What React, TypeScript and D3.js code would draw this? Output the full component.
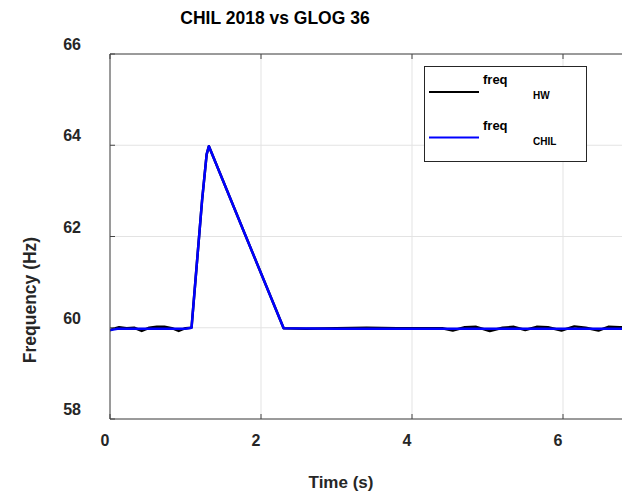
import React from "react";
import * as d3 from "d3";

const titleText = "CHIL 2018 vs GLOG 36";
const xLabel = "Time (s)";
const yLabel = "Frequency (Hz)";
const xTicks = [0, 2, 4, 6];
const yTicks = [58, 60, 62, 64, 66];

const hwTime = [0, 0.05, 0.12, 0.22, 0.32, 0.42, 0.52, 0.62, 0.72, 0.82, 0.91, 1.0, 1.08, 1.15, 1.22, 1.28, 1.31, 1.8, 2.3, 2.6, 3.0, 3.4, 3.8, 4.2, 4.4, 4.54, 4.7, 4.85, 5.03, 5.2, 5.35, 5.5, 5.65, 5.8, 5.98, 6.15, 6.3, 6.47, 6.6, 6.75, 6.9];
const hwFreq = [59.94, 59.98, 60.01, 59.99, 60.0, 59.93, 60.0, 60.02, 60.02, 59.99, 59.93, 59.99, 60.0, 61.4, 62.8, 63.8, 63.98, 62.0, 59.99, 59.98, 59.99, 60.0, 59.99, 59.99, 59.99, 59.94, 60.01, 60.02, 59.93, 60.0, 60.02, 59.95, 60.02, 60.01, 59.94, 60.03, 60.0, 59.94, 60.02, 60.01, 60.01];

const chilTime = [0, 0.1, 0.5, 1.0, 1.08, 1.15, 1.22, 1.28, 1.31, 1.8, 2.3, 3.0, 4.0, 5.0, 6.0, 6.9];
const chilFreq = [59.95, 59.98, 59.98, 59.98, 60.0, 61.4, 62.8, 63.8, 63.98, 62.0, 59.99, 59.98, 59.98, 59.98, 59.98, 59.98];

const legendItems = [
  { name: "freq", sub: "HW", color: "#000000" },
  { name: "freq", sub: "CHIL", color: "#0000ff" },
];

const W = 622;
const H = 494;
const left = 110;
const top = 54;
const bottom = 419;
const FONT = "'Liberation Sans', Arial, Helvetica, sans-serif";

export default function App() {
  const x = d3.scaleLinear().domain([0, 7]).range([left, left + 7 * 75.5]);
  const y = d3.scaleLinear().domain([58, 66]).range([bottom, top]);
  const right = x(7);

  const line = d3
    .line<[number, number]>()
    .x((d) => x(d[0]))
    .y((d) => y(d[1]));

  const hwData: [number, number][] = hwTime.map((t, i) => [t, hwFreq[i]]);
  const chilData: [number, number][] = chilTime.map((t, i) => [t, chilFreq[i]]);

  const axisColor = "#444";
  const gridColor = "#e3e3e3";

  return (
    <svg
      width={W}
      height={H}
      style={{ position: "absolute", left: 0, top: 0, background: "#fff" }}
      fontFamily={FONT}
    >
      <rect x={0} y={0} width={W} height={H} fill="#fff" />
      <defs>
        <clipPath id="plotclip">
          <rect x={left} y={top} width={right - left} height={bottom - top} />
        </clipPath>
      </defs>
      {xTicks.map((t) => (
        <line key={"gx" + t} x1={x(t)} x2={x(t)} y1={top} y2={bottom} stroke={gridColor} strokeWidth={1} />
      ))}
      {yTicks.map((t) => (
        <line key={"gy" + t} x1={left} x2={right} y1={y(t)} y2={y(t)} stroke={gridColor} strokeWidth={1} />
      ))}
      <g clipPath="url(#plotclip)">
        <path d={line(hwData) || ""} fill="none" stroke="#000" strokeWidth={2.5} strokeLinejoin="round" />
        <path d={line(chilData) || ""} fill="none" stroke="#0000ff" strokeWidth={2.5} strokeLinejoin="round" />
      </g>
      <line x1={left} x2={right} y1={top} y2={top} stroke={axisColor} strokeWidth={1} />
      <line x1={left} x2={right} y1={bottom} y2={bottom} stroke={axisColor} strokeWidth={1} />
      <line x1={left} x2={left} y1={top} y2={bottom} stroke={axisColor} strokeWidth={1} />
      {xTicks.map((t) => (
        <g key={"tx" + t}>
          <line x1={x(t)} x2={x(t)} y1={bottom} y2={bottom - 5} stroke={axisColor} />
          <line x1={x(t)} x2={x(t)} y1={top} y2={top + 5} stroke={axisColor} />
          <text x={x(t) - 5} y={446} textAnchor="middle" fontSize={16} fontWeight="bold" fill="#262626">
            {t}
          </text>
        </g>
      ))}
      {yTicks.map((t) => (
        <g key={"ty" + t}>
          <line x1={left} x2={left + 5} y1={y(t)} y2={y(t)} stroke={axisColor} />
          <text x={81} y={y(t) - 4} textAnchor="end" fontSize={16} fontWeight="bold" fill="#262626">
            {t}
          </text>
        </g>
      ))}
      <text x={275} y={24} textAnchor="middle" fontSize={17.5} fontWeight="bold" fill="#000">
        {titleText}
      </text>
      <text x={341} y={488} textAnchor="middle" fontSize={17} fontWeight="bold" fill="#262626">
        {xLabel}
      </text>
      <text
        transform={`translate(36,300) rotate(-90)`}
        textAnchor="middle"
        fontSize={17.5}
        fontWeight="bold"
        fill="#262626"
      >
        {yLabel}
      </text>
      <rect x={424.5} y={66.5} width={162} height={95} fill="#fff" stroke="#262626" strokeWidth={1} />
      {legendItems.map((d, i) => {
        const ly = 92 + i * 45.5;
        return (
          <g key={"lg" + i}>
            <line x1={429} x2={479} y1={ly} y2={ly} stroke={d.color} strokeWidth={2} />
            <text x={483} y={ly - 8} fontSize={13} fontWeight="bold" fill="#000">
              {d.name}
            </text>
            <text x={533} y={ly + 7} fontSize={10} fontWeight="bold" fill="#000">
              {d.sub}
            </text>
          </g>
        );
      })}
    </svg>
  );
}
